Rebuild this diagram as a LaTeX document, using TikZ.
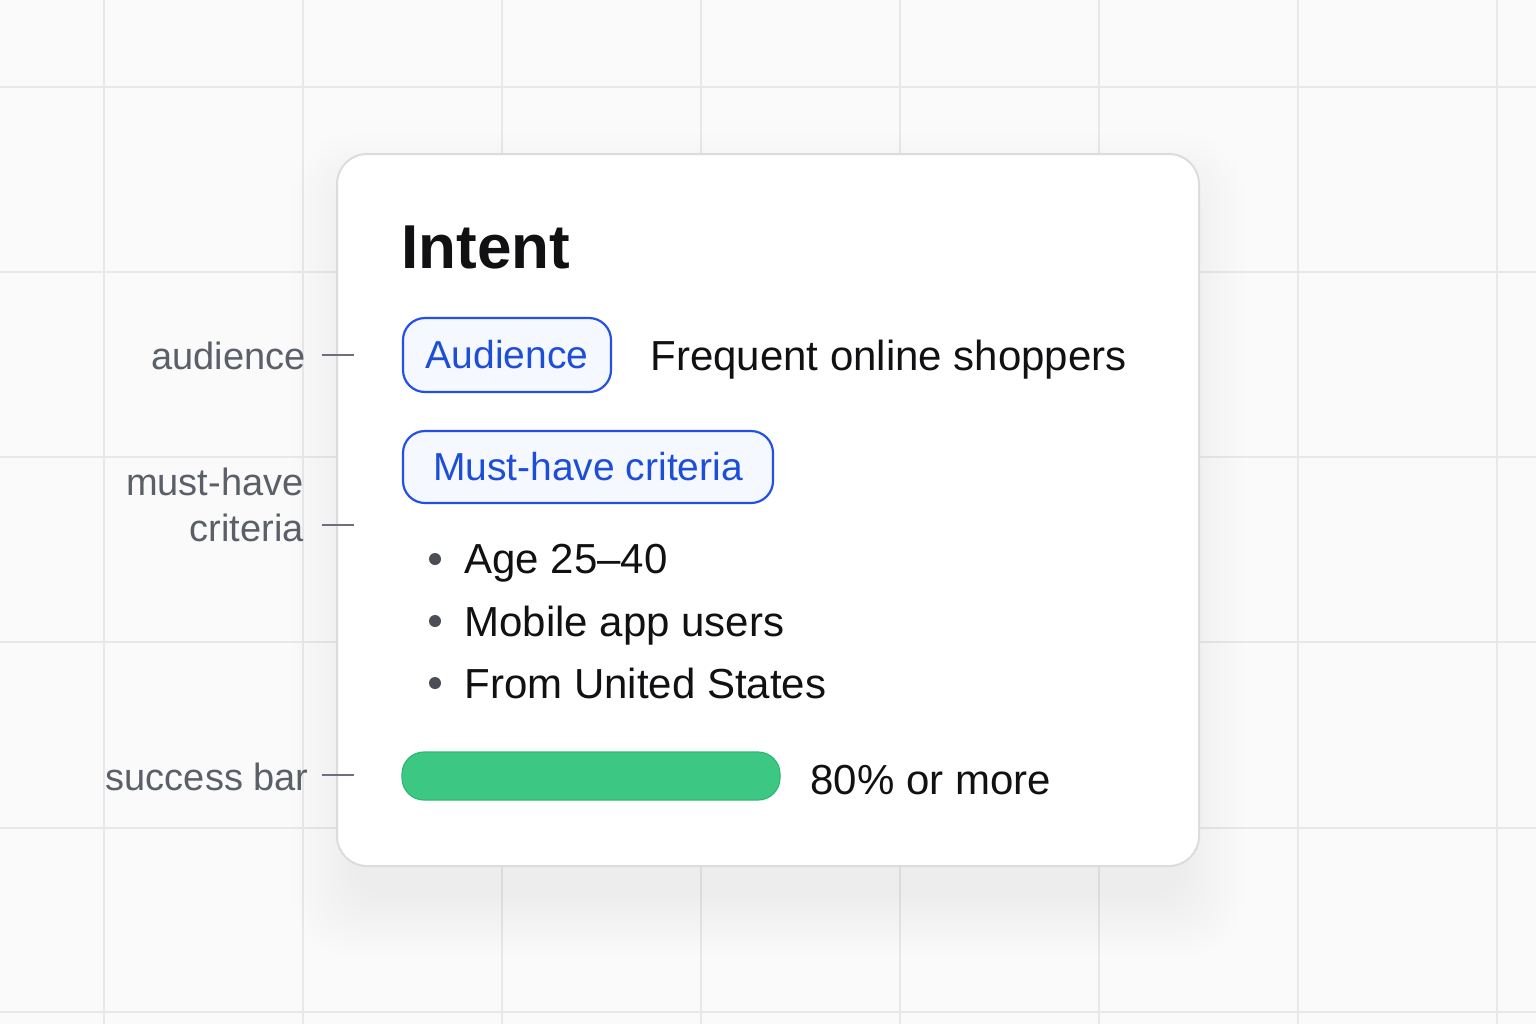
\documentclass[tikz,border=0pt]{standalone}
\usepackage{fontspec}
\setmainfont{Liberation Sans}
\definecolor{bg}{HTML}{FAFAFB}
\definecolor{gridc}{HTML}{E8E8EB}
\definecolor{cardborder}{HTML}{DCDCE0}
\definecolor{pillblue}{HTML}{2350E6}
\definecolor{pilltext}{HTML}{1D4ED8}
\definecolor{pillfill}{HTML}{F5F8FF}
\definecolor{labelgray}{HTML}{5B6068}
\definecolor{dashgray}{HTML}{6B7079}
\definecolor{ink}{HTML}{111113}
\definecolor{barfill}{HTML}{3CC882}
\definecolor{barline}{HTML}{2FB874}
\definecolor{dotc}{HTML}{4B4E56}
\definecolor{shadowc}{HTML}{50505A}
\begin{document}
\begin{tikzpicture}[x=0.5pt,y=-0.5pt,
  gridline/.style={gridc, line width=1pt},
  card/.style={draw=cardborder, line width=1pt, fill=white, rounded corners=15pt},
  shadowlayer/.style={fill=shadowc, fill opacity=0.0045},
  pill/.style={draw=pillblue, line width=1.1pt, fill=pillfill, rounded corners=11pt,
    text=pilltext, font=\fontsize{19.5}{22}\selectfont, inner sep=0pt},
  body/.style={text=ink, inner sep=0pt, font=\fontsize{21}{24}\selectfont},
  lbl/.style={text=labelgray, inner sep=0pt, anchor=base east, font=\fontsize{19}{22}\selectfont},
  tickline/.style={dashgray, line width=1pt},
  bulletdot/.style={circle, fill=dotc, inner sep=0pt, minimum size=6pt},
  bar/.style={draw=barline, line width=0.6pt, fill=barfill, rounded corners=11pt}
]
\useasboundingbox (0,0) rectangle (1536,1024);
\fill[bg] (0,0) rectangle (1536,1024);
\foreach \x in {104,303,502,701,900,1099,1298,1497} \draw[gridline] (\x,0) -- (\x,1024);
\foreach \y in {87,272,457,642,828,1012} \draw[gridline] (0,\y) -- (1536,\y);

% soft shadow
\foreach \r in {0,5,...,60}
  \fill[shadowlayer, rounded corners={(15+\r/4)*1pt}] (337+16-\r,154+40-\r) rectangle (1199-16+\r,866+30+\r);

% card
\node[card, minimum width=431pt, minimum height=356pt] (card) at (768,510) {};

% title
\node[anchor=base west, inner sep=0pt, text=ink, font=\bfseries\fontsize{31}{36}\selectfont] (title) at (401,268) {Intent};

% audience row
\node[pill, minimum width=104pt, minimum height=37pt] (aud) at (507,355) {Audience};
\node[body, anchor=base west] (audtxt) at (650,370) {Frequent online shoppers};

% criteria
\node[pill, minimum width=185pt, minimum height=36pt] (must) at (588,467) {Must-have criteria};
\node[bulletdot] (d1) at (435,559) {};
\node[bulletdot] (d2) at (435,621) {};
\node[bulletdot] (d3) at (435,683) {};
\node[body, anchor=base west] (b1) at (464,573) {Age 25–40};
\node[body, anchor=base west] (b2) at (464,636) {Mobile app users};
\node[body, anchor=base west] (b3) at (464,698) {From United States};

% success bar
\node[bar, minimum width=189pt, minimum height=24pt] (bar) at (591,776) {};
\node[body, anchor=base west] (bartxt) at (810,794) {80\% or more};

% left labels
\node[lbl] (laud) at (306,369) {audience};
\node[lbl] (lmust1) at (304,495) {must-have};
\node[lbl] (lmust2) at (304,541) {criteria};
\node[lbl] (lbar) at (309,790) {success bar};

\coordinate (t1a) at (322,355); \coordinate (t1b) at (354,355);
\coordinate (t2a) at (322,525); \coordinate (t2b) at (354,525);
\coordinate (t3a) at (322,775); \coordinate (t3b) at (354,775);
\draw[tickline] (t1a) -- (t1b);
\draw[tickline] (t2a) -- (t2b);
\draw[tickline] (t3a) -- (t3b);
\end{tikzpicture}
\end{document}
